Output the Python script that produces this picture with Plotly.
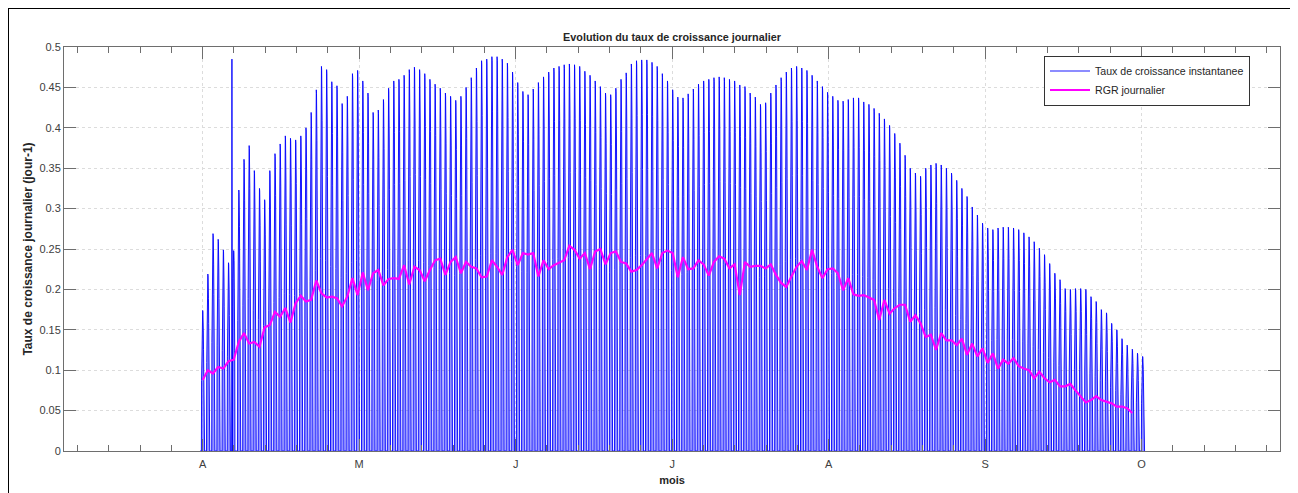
import plotly.graph_objects as go

# ---------------- data ----------------
TITLE = "Evolution du taux de croissance journalier"
X_TITLE = "mois"
Y_TITLE = "Taux de croissance journalier (jour-1)"
NAME_INST = "Taux de croissance instantanee"
NAME_RGR = "RGR journalier"

# month tick labels and their positions (days since 1 April)
MONTH_LABELS = ["A", "M", "J", "J", "A", "S", "O"]
MONTH_TICKS = [0, 30.3, 60.6, 90.9, 121.2, 151.5, 181.8]

# daily maximum of the instantaneous growth rate (one value per day)
DAILY_PEAK = [
    0.174, 0.219, 0.269, 0.262, 0.249, 0.233, 0.248, 0.323, 0.361, 0.378,
    0.347, 0.325, 0.311, 0.347, 0.368, 0.380, 0.390, 0.387, 0.385, 0.390,
    0.400, 0.419, 0.447, 0.476, 0.472, 0.457, 0.452, 0.430, 0.439, 0.467,
    0.471, 0.458, 0.443, 0.419, 0.422, 0.435, 0.449, 0.458, 0.460, 0.465,
    0.472, 0.475, 0.472, 0.467, 0.460, 0.454, 0.449,
    0.443, 0.439, 0.434, 0.439, 0.450, 0.462, 0.474, 0.483, 0.485, 0.488,
    0.488, 0.485, 0.480, 0.469, 0.456, 0.445, 0.441, 0.448, 0.456, 0.463,
    0.469, 0.474, 0.476, 0.478, 0.479, 0.478, 0.476, 0.470, 0.465, 0.458,
    0.451, 0.443, 0.441, 0.449, 0.460, 0.468, 0.479, 0.483, 0.484, 0.484,
    0.481, 0.476, 0.467, 0.458, 0.447,
    0.438, 0.437, 0.442, 0.448, 0.454, 0.458, 0.460, 0.462, 0.463, 0.462,
    0.460, 0.458, 0.453, 0.451, 0.443, 0.438, 0.429, 0.431, 0.443, 0.453,
    0.462, 0.469, 0.474, 0.476, 0.474, 0.471, 0.465, 0.458, 0.451, 0.444,
    0.439, 0.434, 0.433, 0.435, 0.437, 0.437, 0.432, 0.429, 0.424, 0.418,
    0.411, 0.403, 0.393, 0.381, 0.366, 0.350,
    0.344, 0.340, 0.350, 0.354, 0.356, 0.354, 0.350, 0.344, 0.335, 0.325,
    0.315, 0.302, 0.292, 0.282, 0.276, 0.274, 0.276, 0.277, 0.277, 0.276,
    0.274, 0.270, 0.265, 0.259, 0.251, 0.243, 0.232, 0.220, 0.212, 0.201,
    0.200, 0.201, 0.201, 0.200, 0.191, 0.185, 0.175, 0.171, 0.158, 0.150,
    0.139, 0.131, 0.126, 0.121, 0.117,
]

# hourly shape of the instantaneous rate within a day (fraction of daily max)
HOURLY_PROFILE = [
    0, 0, 0, 0, 0, 0, 0, 0.50, 0.72, 0.86, 0.95, 0.99,
    1.00, 0.99, 0.95, 0.86, 0.72, 0.50, 0, 0, 0, 0, 0, 0,
]

# isolated outlier of the instantaneous rate (day, hour, value)
OUTLIER_DAY = 6
OUTLIER_HOUR = 4
OUTLIER_VALUE = 0.485

# daily RGR (one value per day from 1 April)
RGR_DAILY = [
    0.088, 0.100, 0.096, 0.104, 0.102, 0.111, 0.113, 0.135, 0.146, 0.133,
    0.135, 0.129, 0.153, 0.156, 0.172, 0.166, 0.177, 0.159, 0.183, 0.192,
    0.185, 0.187, 0.211, 0.195, 0.190, 0.191, 0.189, 0.179, 0.191, 0.214,
    0.193, 0.221, 0.199, 0.220, 0.224, 0.205, 0.213, 0.214, 0.213, 0.230,
    0.206, 0.228, 0.224, 0.210, 0.224, 0.236,
    0.238, 0.218, 0.234, 0.240, 0.220, 0.234, 0.228, 0.226, 0.215, 0.216,
    0.236, 0.228, 0.218, 0.240, 0.249, 0.230, 0.245, 0.243, 0.245, 0.216,
    0.236, 0.225, 0.230, 0.233, 0.236, 0.254, 0.249, 0.238, 0.245, 0.225,
    0.247, 0.250, 0.231, 0.245, 0.247, 0.234, 0.232, 0.222, 0.224, 0.230,
    0.238, 0.245, 0.226, 0.245, 0.248,
    0.245, 0.215, 0.240, 0.225, 0.226, 0.236, 0.231, 0.217, 0.234, 0.241,
    0.238, 0.226, 0.231, 0.193, 0.234, 0.228, 0.229, 0.229, 0.226, 0.231,
    0.218, 0.208, 0.203, 0.216, 0.228, 0.235, 0.224, 0.249, 0.228, 0.214,
    0.225, 0.226, 0.220, 0.199, 0.214, 0.194, 0.192, 0.193, 0.190, 0.187,
    0.162, 0.187, 0.170, 0.177, 0.181, 0.181,
    0.160, 0.168, 0.158, 0.141, 0.144, 0.125, 0.146, 0.137, 0.137, 0.131,
    0.139, 0.119, 0.133, 0.117, 0.127, 0.109, 0.121, 0.102, 0.113, 0.108,
    0.115, 0.105, 0.102, 0.100, 0.090, 0.098, 0.090, 0.085, 0.088, 0.080,
    0.080, 0.083, 0.075, 0.067, 0.060, 0.063, 0.068, 0.063, 0.061, 0.059,
    0.055, 0.055, 0.053, 0.047,
]

# ---------------- build series ----------------
hours_per_day = len(HOURLY_PROFILE)
x_inst, y_inst = [], []
for d, peak in enumerate(DAILY_PEAK):
    for h, frac in enumerate(HOURLY_PROFILE):
        x_inst.append(d + (h - hours_per_day / 2) / hours_per_day)
        y_inst.append(OUTLIER_VALUE if (d == OUTLIER_DAY and h == OUTLIER_HOUR) else peak * frac)

x_rgr = list(range(len(RGR_DAILY)))

FONT = "Liberation Sans, Arial, Helvetica, sans-serif"
AXIS_COLOR = "#6e6e6e"
TEXT_COLOR = "#262626"
GRID_COLOR = "#dcdcdc"

fig = go.Figure()
fig.add_trace(go.Scatter(
    x=x_inst, y=y_inst, mode="lines", name=NAME_INST, showlegend=False,
    line=dict(color="#0000ff", width=0.9), hoverinfo="skip",
    fill="tozeroy", fillcolor="rgba(125,125,255,0.85)",
))
# legend sample for the instantaneous rate (thin line look)
fig.add_trace(go.Scatter(
    x=[None], y=[None], mode="lines", name=NAME_INST,
    line=dict(color="#8c8cff", width=2),
))
fig.add_trace(go.Scatter(
    x=x_rgr, y=RGR_DAILY, mode="lines", name=NAME_RGR,
    line=dict(color="#ff00ff", width=2.2),
))

# page is drawn with an 8px body offset: work in page pixels
OFF = 8
W, H = 1298 - OFF, 493 - OFF
PX_L, PX_R, PX_T, PX_B = 64, 1280, 47, 451  # plot area in page pixels
L, T = PX_L - OFF, PX_T - OFF
R, B = W - (PX_R - OFF), H - (PX_B - OFF)
pw, ph = W - L - R, H - T - B

def px_x(px):
    return (px - PX_L) / pw

def px_y(py):
    return (PX_B - py) / ph

fig.update_layout(
    width=W, height=H,
    margin=dict(l=L, r=R, t=T, b=B, autoexpand=False),
    paper_bgcolor="white", plot_bgcolor="white",
    font=dict(family=FONT, size=11, color=TEXT_COLOR),
    title=dict(text="<b>" + TITLE + "</b>", x=0.5, xref="paper", xanchor="center",
               y=1 - (37 - OFF) / H, yref="container", yanchor="middle",
               font=dict(size=10.8, color=TEXT_COLOR, family=FONT)),
    legend=dict(x=px_x(1044), y=px_y(55.5), xanchor="left", yanchor="top",
                bgcolor="white", bordercolor="#333333", borderwidth=1,
                font=dict(size=10.6, color=TEXT_COLOR, family=FONT),
                itemwidth=40, tracegroupgap=0),
    showlegend=True,
)

fig.update_xaxes(
    range=[-26.85, 208.6],
    tickmode="array", tickvals=MONTH_TICKS, ticktext=MONTH_LABELS,
    ticks="inside", ticklen=12, tickwidth=1, tickcolor=AXIS_COLOR,
    minor=dict(tick0=0, dtick=MONTH_TICKS[1] / 5, ticks="inside", ticklen=6,
               tickwidth=1, tickcolor=AXIS_COLOR, showgrid=False),
    showline=True, linecolor=AXIS_COLOR, linewidth=1, mirror="allticks",
    showgrid=True, gridcolor=GRID_COLOR, griddash="dot", gridwidth=1,
    zeroline=False, ticklabelstandoff=3,
    tickfont=dict(size=11, color="#404040", family=FONT),
    title=dict(text="<b>" + X_TITLE + "</b>", standoff=7,
               font=dict(size=11, color=TEXT_COLOR, family=FONT)),
    automargin=False,
)
fig.update_yaxes(
    range=[0, 0.5], dtick=0.05, tick0=0,
    ticks="inside", ticklen=12, tickwidth=1, tickcolor=AXIS_COLOR,
    showline=True, linecolor=AXIS_COLOR, linewidth=1, mirror="allticks",
    showgrid=True, gridcolor=GRID_COLOR, griddash="dot", gridwidth=1,
    zeroline=False,
    tickfont=dict(size=11, color="#404040", family=FONT),
    title=dict(text="<b>" + Y_TITLE + "</b>", standoff=4,
               font=dict(size=12, color=TEXT_COLOR, family=FONT)),
    automargin=False,
)

# figure frame
fig.add_shape(type="rect", xref="paper", yref="paper",
              x0=px_x(8), x1=px_x(1291), y0=px_y(510), y1=px_y(8),
              line=dict(color="black", width=2), fillcolor="rgba(0,0,0,0)",
              layer="above")

fig.write_html("out.html")
